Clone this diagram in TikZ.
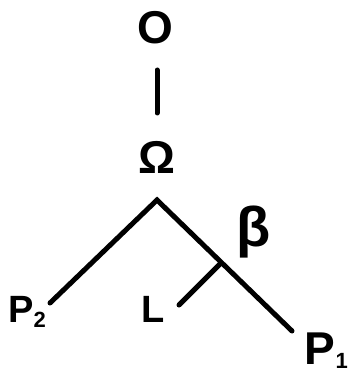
\documentclass[tikz,border=0pt]{standalone}
\usepackage{fontspec}
\setmainfont{Liberation Sans}
\usepackage{tikz}
\usetikzlibrary{positioning}

\begin{document}
\begin{tikzpicture}[
    x=1pt, y=-1pt,
    lbl/.style={inner sep=0pt, font=\fontsize{38}{38}\selectfont\bfseries},
    big/.style={lbl, font=\fontsize{46}{46}\selectfont\bfseries},
    branch/.style={line width=5pt, line cap=round}
]
\useasboundingbox (0,0) rectangle (352,374);

% labels
\node[big] (o) at (155,27.5) {O};
\node[big] (om) at (157,157) {Ω};
\node[big, font=\fontsize{56}{56}\selectfont\bfseries] (be) at (254,232) {β};
\node[lbl, anchor=base west] (p2) at (8,322) {P\raisebox{-5pt}{\fontsize{22}{22}\selectfont 2}};
\node[lbl, anchor=base west] (l) at (141,322) {L};
\node[big, anchor=base east] (p1) at (348,364) {P\raisebox{-4pt}{\fontsize{22}{22}\selectfont 1}};

% branch points
\coordinate (top) at (157,70);
\coordinate (mid) at (157,113);
\coordinate (apex) at (157,200);
\coordinate (jn) at (220,264);
\coordinate (e2) at (50,303);
\coordinate (el) at (179,305);
\coordinate (e1) at (292,331);

\draw[branch] (top) -- (mid);
\draw[branch] (e2) -- (apex) -- (e1);
\draw[branch] (jn) -- (el);

\end{tikzpicture}
\end{document}
